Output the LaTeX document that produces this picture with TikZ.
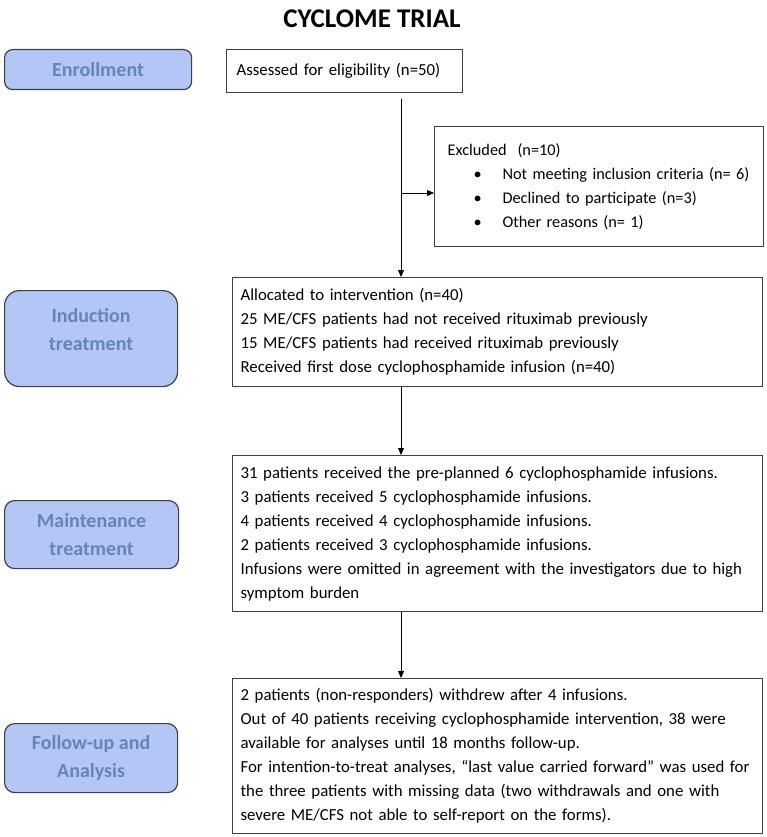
\documentclass[tikz,border=0pt]{standalone}
\usepackage{fontspec}
\setmainfont{Carlito}
\usetikzlibrary{arrows.meta}
\definecolor{phasefill}{HTML}{B4C6F6}
\definecolor{phasetext}{HTML}{6A82B4}
\definecolor{boxline}{HTML}{404040}
\begin{document}
\begin{tikzpicture}[x=1pt,y=-1pt,
  phase/.style={draw=boxline, line width=1.2pt, fill=phasefill, text=phasetext,
    font=\fontsize{20}{28}\selectfont\bfseries, align=center, anchor=north west, inner sep=0pt},
  infobox/.style={draw=boxline, line width=1.2pt, anchor=north west, inner xsep=8pt,
    inner ysep=0pt, align=left, font=\fontsize{16.8}{24}\selectfont},
  arr/.style={-{Triangle[length=7pt,width=6pt]}, line width=0.9pt}
]
\useasboundingbox (0,0) rectangle (767,837);
\node (title) at (372,19) {\fontsize{27}{30}\selectfont\bfseries CYCLOME TRIAL};

\node[phase, rounded corners=8pt, minimum width=187pt, minimum height=40pt] (enroll) at (4,49) {Enrollment};
\node[phase, rounded corners=15pt, minimum width=173pt, minimum height=96pt] (induct) at (4,290) {Induction\\treatment\\[-10pt]\mbox{}};
\node[phase, rounded corners=10pt, minimum width=174pt, minimum height=68pt] (maintph) at (4,500) {Maintenance\\treatment};
\node[phase, rounded corners=10pt, minimum width=173pt, minimum height=69pt] (followph) at (4,723) {Follow-up and\\Analysis};

\node[infobox, inner xsep=10pt, text width=216pt, minimum height=43pt] (assess) at (226,49) {Assessed for eligibility (n=50)};
\node[infobox, inner xsep=13pt, text width=303pt, minimum height=120pt, font=\fontsize{16.3}{24}\selectfont] (excl) at (434,126) {Excluded\ \ (n=10)\\
\hspace*{26pt}\makebox[29pt][l]{\textbullet}Not meeting inclusion criteria (n= 6)\\
\hspace*{26pt}\makebox[29pt][l]{\textbullet}Declined to participate (n=3)\\
\hspace*{26pt}\makebox[29pt][l]{\textbullet}Other reasons (n= 1)};
\node[infobox, text width=514pt, minimum height=109pt] (alloc) at (232,277) {Allocated to intervention (n=40)\\
25 ME/CFS patients had not received rituximab previously\\
15 ME/CFS patients had received rituximab previously\\
Received first dose cyclophosphamide infusion (n=40)};
\node[infobox, text width=514pt, minimum height=156pt] (maint) at (232,455) {31 patients received the pre-planned 6 cyclophosphamide infusions.\\
3 patients received 5 cyclophosphamide infusions.\\
4 patients received 4 cyclophosphamide infusions.\\
2 patients received 3 cyclophosphamide infusions.\\
Infusions were omitted in agreement with the investigators due to high\\
symptom burden};
\node[infobox, text width=514pt, minimum height=155pt] (follow) at (232,678) {2 patients (non-responders) withdrew after 4 infusions.\\
Out of 40 patients receiving cyclophosphamide intervention, 38 were\\
available for analyses until 18 months follow-up.\\
For intention-to-treat analyses, “last value carried forward” was used for\\
the three patients with missing data (two withdrawals and one with\\
severe ME/CFS not able to self-report on the forms).};

\coordinate (top) at (401,99);
\coordinate (br) at (401,193);
\draw[arr] (top) -- (top |- alloc.north);
\draw[arr] (br) -- (br -| excl.west);
\draw[arr] (alloc.south -| top) -- (maint.north -| top);
\draw[arr] (maint.south -| top) -- (follow.north -| top);
\end{tikzpicture}
\end{document}
